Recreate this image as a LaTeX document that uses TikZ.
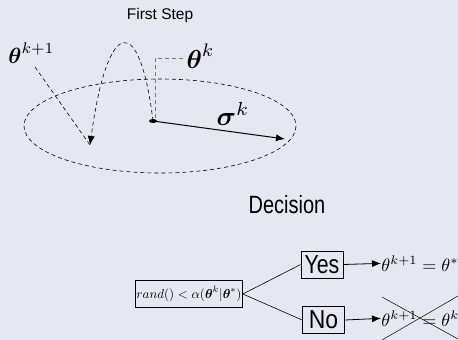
\documentclass[tikz,border=0pt]{standalone}
\usepackage{amsmath}
\usepackage{graphicx}
\usepackage{fontspec}
\setsansfont{Liberation Sans}
\usetikzlibrary{arrows.meta}
\definecolor{bgcol}{RGB}{231,231,241}
\definecolor{guide}{RGB}{120,120,120}
\tikzset{
  dsh/.style={dashed, dash pattern=on 4pt off 3pt, line width=0.6pt},
  tip/.style={-{Latex[length=9pt,width=7pt]}},
  sanslabel/.style={font=\sffamily, inner sep=0pt},
  choice/.style={draw, line width=0.6pt, inner sep=1pt, minimum width=42pt, minimum height=27pt, font=\sffamily\fontsize{26}{28}\selectfont},
  mathlbl/.style={inner sep=0pt},
}
\begin{document}
\begin{tikzpicture}[x=1pt,y=-1pt]
\fill[bgcol] (0,0) rectangle (458,340);
\useasboundingbox (0,0) rectangle (458,340);
% First step
\node[sanslabel, font=\sffamily\fontsize{15.5}{17}\selectfont] (title) at (160,15) {First Step};
\draw[dsh] (160,126) ellipse [x radius=136, y radius=47];
\coordinate (dot) at (153,121);
\coordinate (land) at (90,145);
\coordinate (corner) at (155,58);
\fill (dot) ellipse [x radius=4, y radius=2];
\draw[line width=1pt, tip] (dot) -- (285,139) coordinate (sigend);
\node[mathlbl, anchor=base west, scale=2.7] (sig) at (216,125) {$\boldsymbol{\sigma}^k$};
\draw[dsh, tip] (dot) .. controls (140,14) and (108,14) .. (land);
\node[mathlbl, anchor=base west, scale=2.2] (thn) at (8,63) {$\boldsymbol{\theta}^{k+1}$};
\coordinate (thnfoot) at (35,67);
\draw[dsh] (thnfoot) -- (land);
\node[mathlbl, anchor=base west, scale=2.6] (thk) at (186,68) {$\boldsymbol{\theta}^{k}$};
\draw[dsh, guide] (183,58) -- (corner) -- (155,118);
% Decision
\node[sanslabel, anchor=base] (dec) at (287,213) {\fontsize{25}{28}\selectfont\scalebox{0.8}[1]{Decision}};
\node[draw, line width=0.6pt, minimum width=106pt, minimum height=27pt, inner sep=1pt] (rand) at (189,294) {\scalebox{1.3}{$rand() < \alpha(\boldsymbol{\theta}^k|\boldsymbol{\theta}^*)$}};
\node[choice] (yes) at (322,264.5) {\scalebox{0.82}[1]{Yes}};
\node[choice] (no) at (323.5,320) {\scalebox{0.88}[1]{No}};
\draw[line width=0.6pt] (rand.east) -- (yes.west);
\draw[line width=0.6pt] (rand.east) -- (no.west);
\node[mathlbl, anchor=base west, scale=1.8] (ryes) at (381,271) {$\theta^{k+1} = \theta^*$};
\node[mathlbl, anchor=base west, scale=1.8] (rno) at (381,326) {$\theta^{k+1} = \theta^k$};
\draw[line width=0.8pt, tip] (yes.east) -- (ryes.west);
\draw[line width=0.8pt, tip] (no.east) -- (rno.west);
\draw[line width=0.5pt] (382,297) -- (458,339);
\draw[line width=0.5pt] (382,340) -- (458,296);
\end{tikzpicture}
\end{document}
